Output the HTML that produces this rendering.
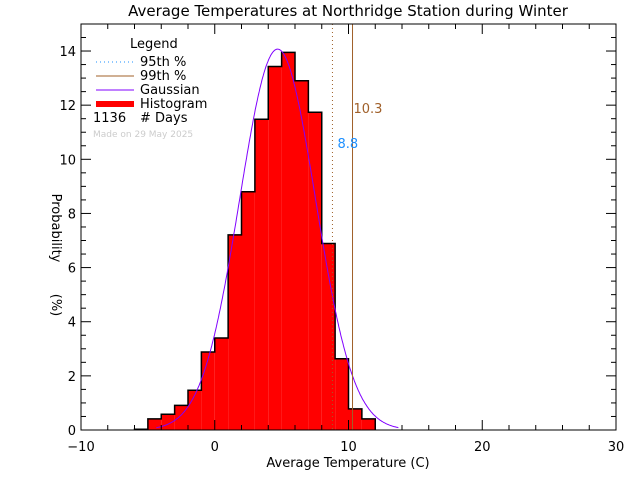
<!DOCTYPE html>
<html><head><meta charset="utf-8"><style>
html,body{margin:0;padding:0;background:#fff}
svg{display:block;font-family:"DejaVu Sans","Liberation Sans",sans-serif}
</style></head><body>
<svg id="chart" width="640" height="480" viewBox="0 0 640 480">
<rect width="640" height="480" fill="#fff"/>
<text x="348" y="16" text-anchor="middle" font-size="15">Average Temperatures at Northridge Station during Winter</text>
<g id="plot"></g>
<g id="axes"></g>
<text x="348" y="467" text-anchor="middle" font-size="13">Average Temperature (C)</text>
<text transform="translate(52,228) rotate(90)" text-anchor="middle" font-size="13">Probability</text>
<text transform="translate(52,305) rotate(90)" text-anchor="middle" font-size="13">(%)</text>
<g font-size="13">
<text x="130" y="48">Legend</text>
<line x1="96" y1="62" x2="134" y2="62" stroke="#1e90ff" stroke-dasharray="1,3"/>
<text x="140" y="66">95th %</text>
<line x1="96" y1="76" x2="134" y2="76" stroke="#a0602a"/>
<text x="140" y="80">99th %</text>
<line x1="96" y1="90" x2="134" y2="90" stroke="#8000ff"/>
<text x="140" y="94">Gaussian</text>
<rect x="96" y="101" width="38" height="6" fill="#f00"/>
<text x="140" y="108">Histogram</text>
<text x="93" y="122">1136</text>
<text x="140" y="122"># Days</text>
<text x="93" y="137" font-size="9" fill="#ccc">Made on 29 May 2025</text>
</g>
</svg>
<script>
const binEdges=[-6,-5,-4,-3,-2,-1,0,1,2,3,4,5,6,7,8,9,10,11];
const binValues=[0.03,0.41,0.58,0.91,1.47,2.88,3.40,7.21,8.80,11.48,13.43,13.95,12.9,11.74,6.89,2.63,0.78,0.41];
const xTicks=[-10,0,10,20,30];
const yTicks=[0,2,4,6,8,10,12,14];
const gaussMean=4.7, gaussSigma=2.835, gaussPeak=14.07;
const p95=8.8, p99=10.3;
const X0=81,X1=616,Y0=430,Y1=24;
const xs=v=>X0+(v+10)/40*(X1-X0);
const ys=v=>Y0-v*27.07;
const NS="http://www.w3.org/2000/svg";
const plot=document.getElementById('plot'),axes=document.getElementById('axes');
function mk(t,a,p){const e=document.createElementNS(NS,t);for(const k in a)e.setAttribute(k,a[k]);p.appendChild(e);return e;}
binEdges.forEach((b,i)=>{
 const r=mk('rect',{x:xs(b),y:ys(binValues[i]),width:xs(b+1)-xs(b),height:Y0-ys(binValues[i]),fill:'#f00'},plot);
 
 
});
let d='';
binEdges.forEach((b,i)=>{const y=ys(binValues[i]);d+=(i?'L':'M')+xs(b)+','+(i?y:Y0)+(i?'':'L'+xs(b)+','+y)+'L'+xs(b+1)+','+y;});
d+='L'+xs(binEdges[binEdges.length-1]+1)+','+Y0;
const out=mk('path',{d:d,fill:'none',stroke:'#000','stroke-width':1.5},plot);


let g='';
for(let t=gaussMean-3.2*gaussSigma,i=0;t<=gaussMean+3.2*gaussSigma;t+=0.05,i++){
 const v=gaussPeak*Math.exp(-0.5*((t-gaussMean)/gaussSigma)**2);g+=(i?'L':'M')+xs(t).toFixed(1)+','+ys(v).toFixed(1);}
const gp=mk('path',{d:g,fill:'none',stroke:'#8000ff','stroke-width':1},plot);


const l95=mk('line',{x1:xs(p95),x2:xs(p95),y1:Y1,y2:Y0,stroke:'#a0602a','stroke-dasharray':'1,3'},plot);


const l99=mk('line',{x1:xs(p99),x2:xs(p99),y1:Y1,y2:Y0,stroke:'#a0602a'},plot);


const t95=mk('text',{x:xs(p95)+5,y:148,fill:'#1e90ff','font-size':13},plot);t95.textContent=p95.toFixed(1);


const t99=mk('text',{x:xs(p99)+1,y:113,fill:'#a0602a','font-size':13},plot);t99.textContent=p99.toFixed(1);


const fr=mk('rect',{x:X0,y:Y1,width:X1-X0,height:Y0-Y1,fill:'none',stroke:'#000'},axes);


for(let v=-10;v<=30;v+=2){const maj=v%10===0,L=maj?10:5;
 mk('line',{x1:xs(v),x2:xs(v),y1:Y0,y2:Y0-L,stroke:'#000'},axes);
 mk('line',{x1:xs(v),x2:xs(v),y1:Y1,y2:Y1+L,stroke:'#000'},axes);}
xTicks.forEach(v=>{const t=mk('text',{x:xs(v),y:451,'text-anchor':'middle','font-size':13},axes);t.textContent=v<0?'\u2212'+(-v):v;
 
 });
for(let v=0;v<=15;v+=0.5){const maj=v%2===0,L=maj?10:5;if(ys(v)<Y1)break;
 mk('line',{x1:X0,x2:X0+L,y1:ys(v),y2:ys(v),stroke:'#000'},axes);
 mk('line',{x1:X1,x2:X1-L,y1:ys(v),y2:ys(v),stroke:'#000'},axes);}
yTicks.forEach(v=>{const t=mk('text',{x:X0-5,y:ys(v)+5,'text-anchor':'end','font-size':13},axes);t.textContent=v;
 
 });
</script>
</body></html>
